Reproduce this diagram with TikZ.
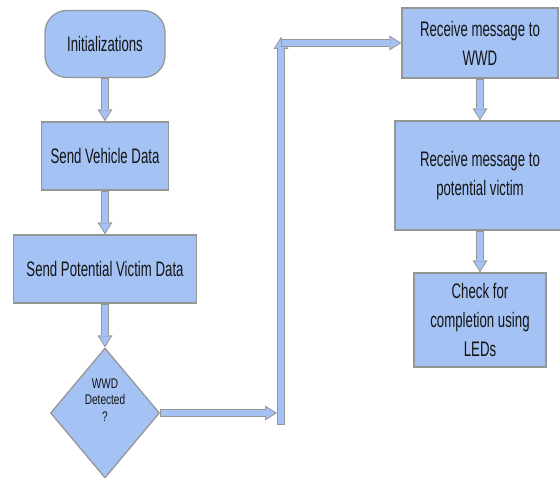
\documentclass[tikz,border=0pt]{standalone}
\usepackage{fontspec}
\setmainfont{Liberation Sans}[FakeStretch=0.63]
\newfontfamily\smallfont{Liberation Sans}[FakeStretch=0.72]
\usetikzlibrary{shapes.geometric,arrows.meta}
\definecolor{boxfill}{HTML}{A4C2F4}
\definecolor{boxline}{HTML}{969696}
\definecolor{txt}{HTML}{141414}
% block arrow: grey outline pass, then blue body pass
\newcommand\blockarrow[2]{%
  \draw[arrowedge] #1 -- #2;
  \draw[arrowbody] #1 -- #2;}
\begin{document}
\begin{tikzpicture}[x=1pt,y=-1pt,
  box/.style={draw=boxline, line width=1.3pt, fill=boxfill, inner sep=0pt,
    align=center, text=txt, font=\fontsize{21}{29}\selectfont},
  smalltext/.style={font=\smallfont\fontsize{14}{16.5}\selectfont,
    align=center, text=txt},
  arrowedge/.style={draw=boxline, line width=8pt,
    -{Triangle[width=15pt,length=12pt,line width=0pt]}},
  arrowbody/.style={draw=boxfill, line width=5.6pt, shorten >=1.9pt, shorten <=1pt,
    -{Triangle[width=11.4pt,length=9.1pt,line width=0pt]}},
]
\useasboundingbox (0,0) rectangle (560,478);
\fill[white] (0,0) rectangle (560,478);

% left column
\node[box, rounded corners=22pt, minimum width=120pt, minimum height=67pt]
  (init) at (105,44) {Initializations};
\node[box, minimum width=127pt, minimum height=68pt]
  (veh) at (105,156) {Send Vehicle Data};
\node[box, minimum width=183pt, minimum height=68pt]
  (pvd) at (105,269) {Send Potential Victim Data};
\node[box, diamond, minimum width=109pt, minimum height=130pt,
  label={[smalltext, yshift=13pt]center:{WWD\\Detected\\?}}]
  (det) at (105,413) {};

% right column
\node[box, minimum width=156pt, minimum height=70pt]
  (rw) at (480,43) {Receive message to\\WWD};
\node[box, minimum width=170pt, minimum height=109pt]
  (rv) at (480,175.5) {Receive message to\\potential victim};
\node[box, minimum width=132pt, minimum height=94pt]
  (chk) at (480,320) {Check for\\completion using\\LEDs};

% routing points of the branch connector
\coordinate (j1) at (277,413);
\coordinate (barbot) at (281,425);
\coordinate (bartop) at (281,37);
\coordinate (barjoin) at (281,43);

\blockarrow{(init.south)}{(veh.north)}
\blockarrow{(veh.south)}{(pvd.north)}
\blockarrow{(pvd.south)}{(det.north)}
\blockarrow{(det.east)}{(j1)}
\blockarrow{(barbot)}{(bartop)}
\blockarrow{(barjoin)}{(rw.west)}
\blockarrow{(rw.south)}{(rv.north)}
\blockarrow{(rv.south)}{(chk.north)}
\end{tikzpicture}
\end{document}
